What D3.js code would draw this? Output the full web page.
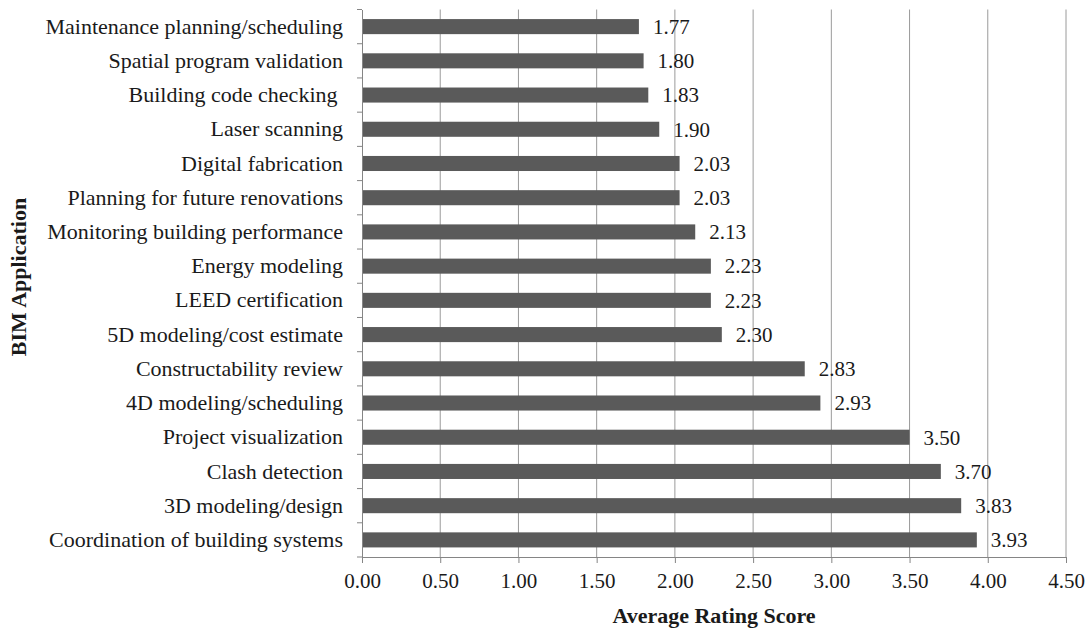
<!DOCTYPE html>
<html>
<head>
<meta charset="utf-8">
<script src="https://cdn.jsdelivr.net/npm/d3@7"></script>
<style>
  html, body { margin: 0; padding: 0; background: #fff; }
  svg { display: block; }
  text { font-family: "Liberation Serif", "Times New Roman", serif; fill: #1a1a1a; }
</style>
</head>
<body>
<svg id="chart" width="1091" height="628"></svg>
<script>
// BIM applications, listed top to bottom as drawn
const applications = [
  "Maintenance planning/scheduling",
  "Spatial program validation",
  "Building code checking ",
  "Laser scanning",
  "Digital fabrication",
  "Planning for future renovations",
  "Monitoring building performance",
  "Energy modeling",
  "LEED certification",
  "5D modeling/cost estimate",
  "Constructability review",
  "4D modeling/scheduling",
  "Project visualization",
  "Clash detection",
  "3D modeling/design",
  "Coordination of building systems"
];
const ratings = [1.77, 1.80, 1.83, 1.90, 2.03, 2.03, 2.13, 2.23, 2.23, 2.30, 2.83, 2.93, 3.50, 3.70, 3.83, 3.93];
const xTicks = [0, 0.5, 1, 1.5, 2, 2.5, 3, 3.5, 4, 4.5];
const xTitle = "Average Rating Score";
const yTitle = "BIM Application";

const W = 1091, H = 628;
const margin = { top: 9.5, right: 25, bottom: 71, left: 362 };
const innerW = W - margin.left - margin.right;
const innerH = H - margin.top - margin.bottom;

const svg = d3.select("#chart");
const g = svg.append("g").attr("transform", `translate(${margin.left},${margin.top})`);

const x = d3.scaleLinear().domain([0, 4.5]).range([0, innerW]);
const y = d3.scaleBand().domain(applications).range([0, innerH]).paddingInner(0.56).paddingOuter(0.28);

// vertical gridlines
g.append("g")
  .selectAll("line")
  .data(xTicks.filter(t => t > 0))
  .join("line")
  .attr("x1", d => x(d)).attr("x2", d => x(d))
  .attr("y1", 0).attr("y2", innerH)
  .attr("stroke", "#9a9a9a")
  .attr("stroke-width", 1);

// bars
g.append("g")
  .selectAll("rect")
  .data(ratings)
  .join("rect")
  .attr("x", 0)
  .attr("y", (d, i) => y(applications[i]))
  .attr("width", d => x(d))
  .attr("height", y.bandwidth())
  .attr("fill", "#5a5a5a");

// value labels
g.append("g")
  .selectAll("text")
  .data(ratings)
  .join("text")
  .attr("x", d => x(d) + 14)
  .attr("y", (d, i) => y(applications[i]) + y.bandwidth() / 2)
  .attr("dy", "0.35em")
  .attr("font-size", 21)
  .text(d => d.toFixed(2));

// bottom axis
const xAxis = g.append("g")
  .attr("transform", `translate(0,${innerH})`)
  .call(d3.axisBottom(x).tickValues(xTicks).tickFormat(d3.format(".2f")).tickSizeInner(6).tickSizeOuter(0).tickPadding(10));
xAxis.select(".domain").attr("stroke", "#858585");
xAxis.selectAll(".tick line").attr("stroke", "#858585");
xAxis.selectAll(".tick text")
  .attr("font-size", 21)
  .attr("font-family", "Liberation Serif, Times New Roman, serif")
  .attr("fill", "#1a1a1a");

// left axis: category labels with ticks on the band boundaries
const yAxis = g.append("g")
  .call(d3.axisLeft(y).tickSize(0).tickPadding(19));
yAxis.select(".domain").attr("stroke", "#858585");
yAxis.selectAll(".tick line").remove();
yAxis.selectAll(".tick text")
  .attr("font-size", 22)
  .attr("font-family", "Liberation Serif, Times New Roman, serif")
  .attr("fill", "#1a1a1a")
  .style("white-space", "pre");

const boundaries = d3.range(applications.length + 1).map(i => i * innerH / applications.length);
yAxis.append("g")
  .selectAll("line")
  .data(boundaries)
  .join("line")
  .attr("x1", -5).attr("x2", 0)
  .attr("y1", d => d).attr("y2", d => d)
  .attr("stroke", "#858585");

// axis titles
svg.append("text")
  .attr("x", margin.left + innerW / 2)
  .attr("y", 623)
  .attr("text-anchor", "middle")
  .attr("font-size", 22)
  .attr("font-weight", "bold")
  .text(xTitle);

svg.append("text")
  .attr("transform", "translate(26,277) rotate(-90)")
  .attr("text-anchor", "middle")
  .attr("font-size", 22)
  .attr("font-weight", "bold")
  .text(yTitle);
</script>
</body>
</html>
